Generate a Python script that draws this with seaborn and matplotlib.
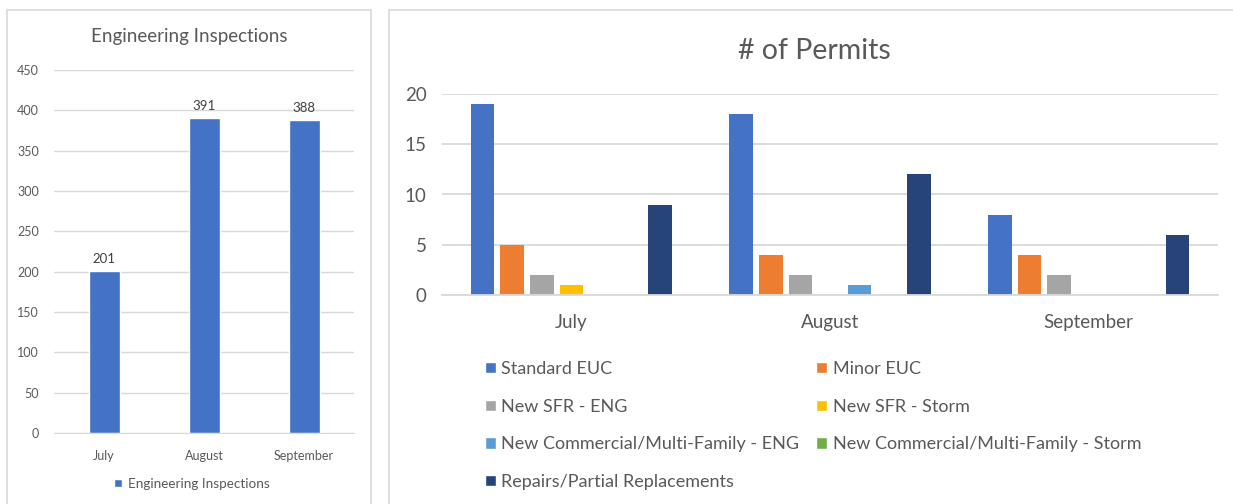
import pandas as pd
import matplotlib
matplotlib.use('Agg')
import matplotlib.pyplot as plt
from matplotlib.patches import Rectangle, Patch
import seaborn as sns

# data
months = ['July', 'August', 'September']
inspections = [201, 391, 388]

permit_types = ['Standard EUC', 'Minor EUC', 'New SFR - ENG', 'New SFR - Storm',
                'New Commercial/Multi-Family - ENG', 'New Commercial/Multi-Family - Storm',
                'Repairs/Partial Replacements']
july_permits = [19, 5, 2, 1, 0, 0, 9]
august_permits = [18, 4, 2, 0, 1, 0, 12]
september_permits = [8, 4, 2, 0, 0, 0, 6]
permit_colors = ['#4472C4', '#ED7D31', '#A5A5A5', '#FFC000', '#5B9BD5', '#70AD47', '#264478']

# long table for seaborn
rows = []
for m, vals in zip(months, [july_permits, august_permits, september_permits]):
    for t, v in zip(permit_types, vals):
        rows.append({'Month': m, 'Type': t, 'Permits': v})
permits = pd.DataFrame(rows)

sns.set_style('white')
plt.rcParams['font.family'] = ['Lato', 'DejaVu Sans']
txt = '#595959'
grid = '#d9d9d9'

W, H = 1233, 504
fig = plt.figure(figsize=(W / 100, H / 100), dpi=100)

# panel borders
fig.patches.append(Rectangle((7 / W, -0.05), (371 - 7) / W, 1.05 - 10 / H, transform=fig.transFigure,
                             fill=False, edgecolor=grid, lw=1.2))
fig.patches.append(Rectangle((389 / W, -0.05), 0.7, 1.05 - 10 / H, transform=fig.transFigure,
                             fill=False, edgecolor=grid, lw=1.2))

# Engineering Inspections
ax1 = fig.add_axes([54 / W, 1 - 433 / H, 300 / W, (433 - 70) / H])
sns.barplot(x=months, y=inspections, color='#4472C4', width=0.31, ax=ax1, saturation=1,
            label='Engineering Inspections')
ax1.set_ylim(0, 450)
ax1.set_yticks(range(0, 451, 50))
ax1.yaxis.grid(True, color=grid, lw=1)
ax1.set_axisbelow(True)
sns.despine(ax=ax1, left=True, top=True, right=True)
ax1.spines['bottom'].set_color(grid)
ax1.tick_params(axis='both', length=0, labelsize=9, labelcolor=txt)
ax1.tick_params(axis='y', pad=11)
ax1.tick_params(axis='x', pad=12)
ax1.bar_label(ax1.containers[0], fontsize=9.5, color='#404040', padding=4)
ax1.set_title('Engineering Inspections', fontsize=13.5, color=txt, pad=20, x=0.45)
ax1.legend(loc='center', bbox_to_anchor=(0.46, -0.14), frameon=False, fontsize=9.7,
           handlelength=0.6, handleheight=0.6, handletextpad=0.4, labelcolor=txt)

# # of Permits
ax2 = fig.add_axes([442 / W, 1 - 295 / H, 776 / W, (295 - 94) / H])
sns.barplot(data=permits, x='Month', y='Permits', hue='Type', palette=permit_colors,
            width=0.8, gap=0.2, saturation=1, linewidth=0, ax=ax2, legend=False)
ax2.set_ylim(0, 20)
ax2.set_yticks(range(0, 21, 5))
ax2.yaxis.grid(True, color=grid, lw=1.3)
ax2.set_axisbelow(True)
sns.despine(ax=ax2, left=True, top=True, right=True)
ax2.spines['bottom'].set_color(grid)
ax2.spines['bottom'].set_linewidth(1.3)
ax2.set_xlabel('')
ax2.set_ylabel('')
ax2.tick_params(axis='both', length=0, labelsize=13.5, labelcolor=txt)
ax2.tick_params(axis='y', pad=11)
ax2.tick_params(axis='x', pad=14)
ax2.set_title('# of Permits', fontsize=20.5, color=txt, pad=25, x=(814 - 442) / 776)

# legend filled row by row, like the original
handles = [Patch(facecolor=c, label=t) for c, t in zip(permit_colors, permit_types)]
order = [0, 2, 4, 6, 1, 3, 5]
fig.legend(handles=[handles[i] for i in order], loc='upper left',
           bbox_to_anchor=(476 / W, 1 - 352 / H), ncol=2,
           frameon=False, fontsize=13, handlelength=0.6, handleheight=0.6, handletextpad=0.3,
           labelspacing=1.2, columnspacing=0.95, labelcolor=txt, borderpad=0)

fig.savefig('out.png', dpi=100)
